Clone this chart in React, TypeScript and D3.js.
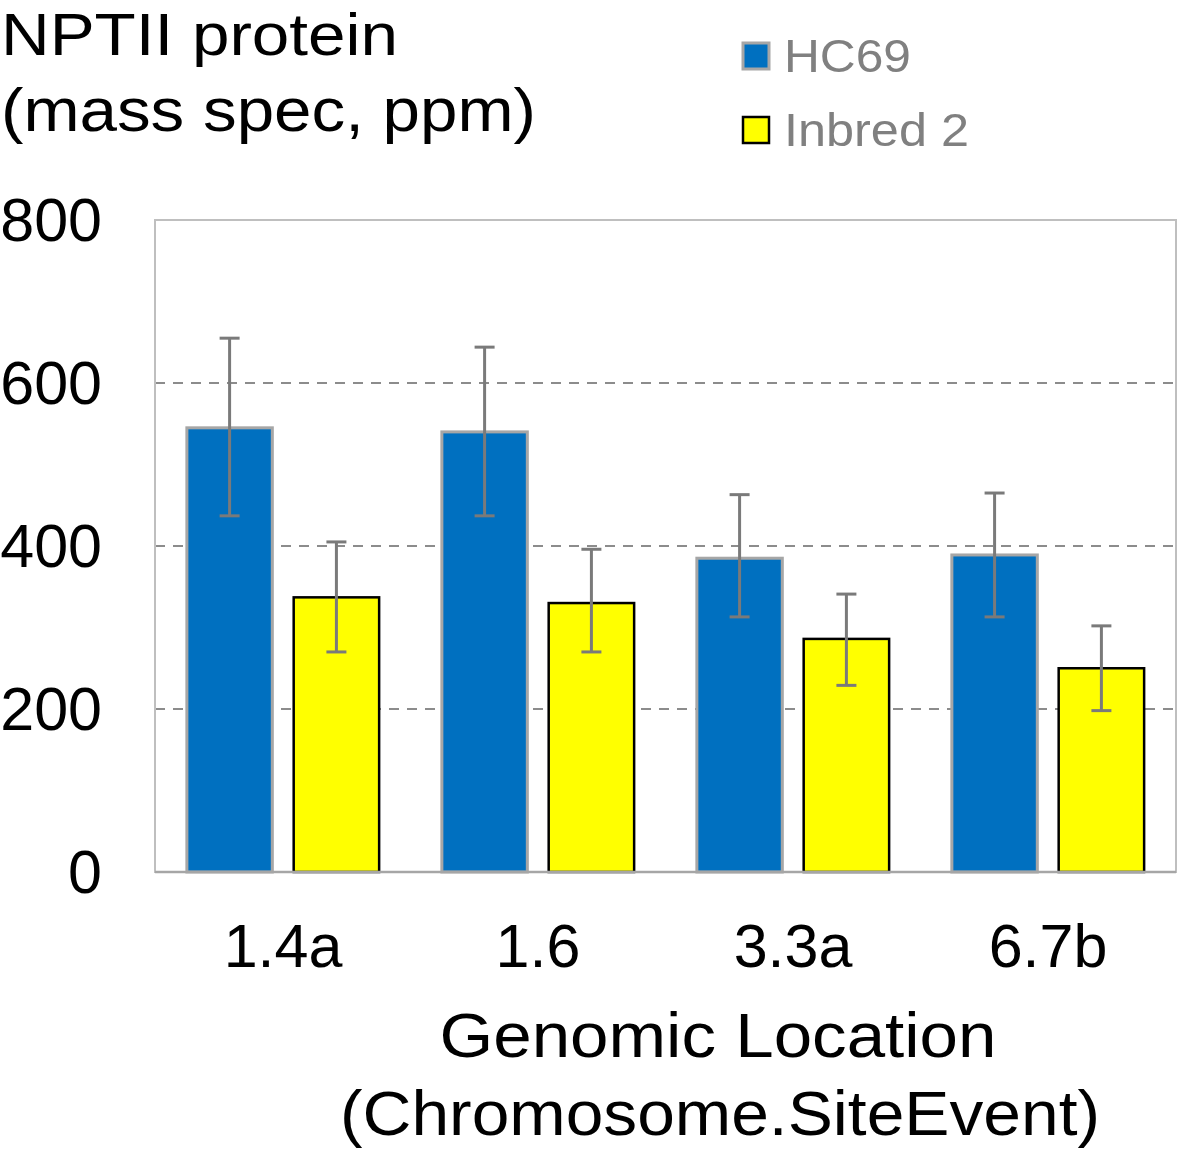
import React from 'react';
import * as d3 from 'd3';

const categories = ['1.4a', '1.6', '3.3a', '6.7b'];
const seriesNames = ['HC69', 'Inbred 2'];
const hc69Values = [545, 540, 385, 389];
const hc69Upper = [655, 644, 463, 465];
const hc69Lower = [437, 437, 313, 313];
const inbredValues = [337, 330, 286, 250];
const inbredUpper = [405, 396, 341, 302];
const inbredLower = [270, 270, 229, 198];
const yTicks = [0, 200, 400, 600, 800];

const fills = ['#0070C0', '#FFFF00'];
const strokes = ['#A6A6A6', '#000000'];
const font = '"Liberation Sans", Arial, sans-serif';

const App: React.FC = () => {
  const width = 1181;
  const height = 1153;
  const margin = { top: 220, right: 5, bottom: 281, left: 155 };
  const plotW = width - margin.left - margin.right;
  const plotH = height - margin.top - margin.bottom;

  const x = d3.scaleBand<string>().domain(categories).range([0, plotW]).paddingInner(0.246).paddingOuter(0.125);
  const xs = d3.scaleBand<string>().domain(seriesNames).range([0, x.bandwidth()]).paddingInner(0.2);
  const y = d3.scaleLinear().domain([0, 800]).range([plotH, 0]);

  const series = [
    { name: seriesNames[0], values: hc69Values, upper: hc69Upper, lower: hc69Lower },
    { name: seriesNames[1], values: inbredValues, upper: inbredUpper, lower: inbredLower },
  ];
  const legendWidths = [127, 185];

  return (
    <svg width={width} height={height} style={{ position: 'absolute', left: 0, top: 0 }} fontFamily={font}>
      <rect width={width} height={height} fill="#fff" />
      {/* title */}
      <text x={1} y={55} fontSize={59} fill="#000" textLength={397} lengthAdjust="spacingAndGlyphs">NPTII  protein</text>
      <text x={1} y={131} fontSize={62} fill="#000" textLength={535} lengthAdjust="spacingAndGlyphs">(mass spec, ppm)</text>

      {/* legend */}
      {series.map((s, i) => (
        <g key={s.name} transform={`translate(742,${42 + i * 74})`}>
          <rect x={1} y={1} width={26} height={26} fill={fills[i]} stroke={strokes[i]} strokeWidth={i === 0 ? 3 : 2.5} />
          <text x={42} y={30} fontSize={47} fill="#808080" textLength={legendWidths[i]} lengthAdjust="spacingAndGlyphs">{s.name}</text>
        </g>
      ))}

      <g transform={`translate(${margin.left},${margin.top})`}>
        {/* gridlines */}
        {yTicks.filter(t => t > 0 && t < 800).map(t => (
          <line key={t} x1={0} x2={plotW} y1={y(t)} y2={y(t)} stroke="#8C8C8C" strokeWidth={2} strokeDasharray="10,8" />
        ))}
        {/* frame */}
        <rect x={0} y={0} width={plotW} height={plotH} fill="none" stroke="#BFBFBF" strokeWidth={2} />

        {/* bars */}
        {series.map((s, si) => categories.map((c, ci) => {
          const bx = (x(c) ?? 0) + (xs(s.name) ?? 0);
          return (
            <rect key={`${si}-${ci}`} x={bx} y={y(s.values[ci])} width={xs.bandwidth()}
              height={plotH - y(s.values[ci])} fill={fills[si]} stroke={strokes[si]} strokeWidth={si === 0 ? 3 : 2.5} />
          );
        }))}

        {/* error bars */}
        {series.map((s, si) => categories.map((c, ci) => {
          const cx = (x(c) ?? 0) + (xs(s.name) ?? 0) + xs.bandwidth() / 2;
          return (
            <g key={`e${si}-${ci}`} stroke="#7A7A7A" strokeWidth={3}>
              <line x1={cx} x2={cx} y1={y(s.upper[ci])} y2={y(s.lower[ci])} />
              <line x1={cx - 10} x2={cx + 10} y1={y(s.upper[ci])} y2={y(s.upper[ci])} />
              <line x1={cx - 10} x2={cx + 10} y1={y(s.lower[ci])} y2={y(s.lower[ci])} />
            </g>
          );
        }))}

        {/* baseline */}
        <line x1={0} x2={plotW} y1={plotH} y2={plotH} stroke="#A6A6A6" strokeWidth={2.5} />

        {/* y tick labels */}
        {yTicks.map(t => (
          <text key={t} x={-53} y={y(t) + 21} fontSize={61} textAnchor="end" fill="#000">{t}</text>
        ))}

        {/* x tick labels */}
        {categories.map(c => (
          <text key={c} x={(x(c) ?? 0) + x.bandwidth() / 2} y={plotH + 95} fontSize={61} textAnchor="middle" fill="#000">{c}</text>
        ))}

        {/* x axis title */}
        <text x={563} y={plotH + 185} fontSize={63} textAnchor="middle" fill="#000" textLength={557} lengthAdjust="spacingAndGlyphs">Genomic Location</text>
        <text x={565} y={plotH + 263} fontSize={63} textAnchor="middle" fill="#000" textLength={760} lengthAdjust="spacingAndGlyphs">(Chromosome.SiteEvent)</text>
      </g>
    </svg>
  );
};

export default App;
